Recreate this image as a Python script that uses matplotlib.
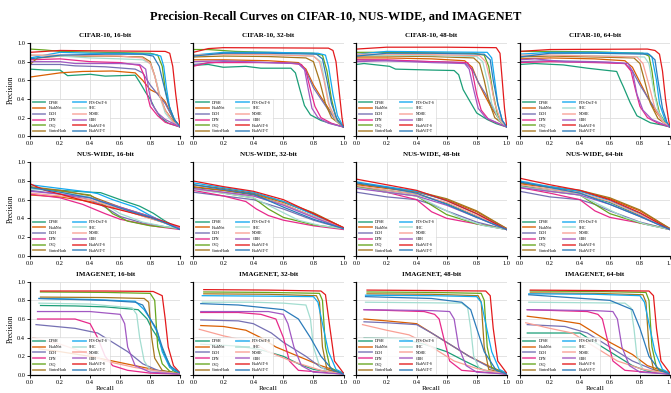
import matplotlib.pyplot as plt

plt.rcParams['font.family'] = ['Liberation Serif', 'DejaVu Serif']

methods = ['DPSH', 'HashNet', 'DCH', 'DPN', 'CSQ', 'CenterHash',
           'FTS-DeiT-S', 'SHC', 'NDHE', 'CBH', 'HashViT-S', 'HashViT-T']
colors = ['#1b9e77', '#d95f02', '#7570b3', '#e7298a', '#66a61e', '#a6761d',
          '#12a9f0', '#a3ddd0', '#f9a095', '#a158c2', '#e31a1c', '#2b7bba']
datasets = ['CIFAR-10', 'NUS-WIDE', 'IMAGENET']
bits = [16, 32, 48, 64]

# (recall, precision) points
cifar_16 = {
    'DPSH': [(0, .72), (.1, .71), (.2, .71), (.25, .65), (.4, .665), (.5, .645), (.7, .655), (.73, .58), (.77, .47), (.8, .40), (.83, .30), (.87, .20), (.92, .14), (1, .10)],
    'HashNet': [(0, .635), (.2, .68), (.35, .695), (.55, .70), (.7, .68), (.75, .6), (.8, .5), (.85, .46), (.9, .37), (.95, .2), (1, .1)],
    'DCH': [(0, .77), (.2, .77), (.3, .755), (.5, .745), (.7, .72), (.75, .68), (.8, .55), (.85, .45), (.9, .35), (.95, .2), (1, .1)],
    'DPN': [(0, .82), (.2, .83), (.4, .8), (.6, .79), (.73, .76), (.76, .65), (.78, .45), (.8, .32), (.85, .22), (.9, .15), (1, .1)],
    'CSQ': [(0, .935), (.1, .925), (.2, .91), (.5, .9), (.8, .89), (.85, .87), (.88, .75), (.9, .5), (.93, .3), (.96, .17), (1, .1)],
    'CenterHash': [(0, .77), (.05, .84), (.2, .86), (.5, .86), (.75, .85), (.8, .8), (.83, .65), (.86, .45), (.9, .28), (.95, .17), (1, .1)],
    'FTS-DeiT-S': [(0, .84), (.2, .9), (.4, .89), (.6, .89), (.82, .88), (.87, .86), (.89, .75), (.91, .5), (.93, .3), (.97, .15), (1, .1)],
    'SHC': [(0, .87), (.2, .86), (.4, .84), (.6, .83), (.75, .82), (.8, .78), (.84, .6), (.87, .4), (.9, .25), (.95, .15), (1, .1)],
    'NDHE': [(0, .87), (.2, .87), (.6, .86), (.75, .84), (.8, .78), (.83, .65), (.86, .45), (.9, .28), (.95, .16), (1, .1)],
    'CBH': [(0, .8), (.2, .8), (.3, .78), (.6, .78), (.73, .77), (.77, .72), (.79, .5), (.81, .35), (.85, .25), (.9, .18), (1, .1)],
    'HashViT-S': [(0, .90), (.2, .92), (.5, .915), (.9, .91), (.93, .89), (.95, .75), (.97, .45), (.99, .2), (1, .1)],
    'HashViT-T': [(0, .83), (.2, .87), (.5, .88), (.75, .88), (.82, .86), (.86, .75), (.89, .55), (.92, .35), (.96, .18), (1, .1)],
}

cifar_32 = {
    'DPSH': [(0, .76), (.1, .77), (.2, .74), (.35, .75), (.45, .73), (.65, .73), (.68, .68), (.71, .5), (.74, .33), (.78, .23), (.85, .17), (.93, .13), (1, .1)],
    'HashNet': [(0, .82), (.2, .82), (.5, .81), (.7, .79), (.75, .72), (.8, .55), (.85, .42), (.9, .3), (.95, .18), (1, .1)],
    'DCH': [(0, .77), (.2, .8), (.5, .79), (.7, .78), (.75, .7), (.8, .52), (.85, .4), (.9, .28), (.95, .17), (1, .1)],
    'DPN': [(0, .75), (.1, .79), (.3, .79), (.6, .79), (.72, .77), (.75, .7), (.78, .5), (.81, .32), (.85, .2), (.92, .14), (1, .1)],
    'CSQ': [(0, .93), (.1, .93), (.28, .91), (.5, .9), (.8, .89), (.86, .87), (.89, .7), (.92, .4), (.95, .2), (1, .1)],
    'CenterHash': [(0, .85), (.2, .86), (.5, .855), (.75, .84), (.8, .8), (.84, .6), (.88, .35), (.92, .2), (1, .1)],
    'FTS-DeiT-S': [(0, .87), (.2, .9), (.5, .9), (.83, .89), (.88, .87), (.9, .75), (.93, .45), (.96, .22), (1, .1)],
    'SHC': [(0, .87), (.2, .88), (.5, .875), (.8, .86), (.85, .8), (.88, .55), (.91, .3), (.95, .17), (1, .1)],
    'NDHE': [(0, .87), (.2, .88), (.5, .875), (.8, .86), (.84, .8), (.87, .6), (.9, .35), (.95, .18), (1, .1)],
    'CBH': [(0, .8), (.2, .81), (.5, .79), (.7, .78), (.74, .72), (.76, .55), (.79, .3), (.83, .2), (.9, .14), (1, .1)],
    'HashViT-S': [(0, .9), (.1, .94), (.2, .95), (.9, .945), (.93, .92), (.95, .8), (.97, .5), (.99, .2), (1, .1)],
    'HashViT-T': [(0, .86), (.2, .89), (.5, .89), (.82, .88), (.86, .83), (.89, .6), (.92, .35), (.96, .17), (1, .1)],
}

cifar_48 = {
    'DPSH': [(0, .77), (.05, .78), (.22, .75), (.26, .72), (.5, .71), (.65, .705), (.68, .66), (.71, .5), (.76, .36), (.8, .25), (.87, .18), (.93, .135), (1, .1)],
    'HashNet': [(0, .84), (.2, .84), (.5, .83), (.72, .81), (.77, .74), (.81, .58), (.85, .45), (.9, .3), (.95, .18), (1, .1)],
    'DCH': [(0, .82), (.2, .81), (.5, .8), (.72, .79), (.77, .72), (.81, .58), (.86, .45), (.91, .3), (.95, .18), (1, .1)],
    'DPN': [(0, .82), (.2, .82), (.5, .8), (.74, .79), (.77, .7), (.8, .45), (.83, .28), (.88, .18), (1, .1)],
    'CSQ': [(0, .9), (.2, .9), (.5, .895), (.78, .89), (.85, .87), (.88, .75), (.91, .45), (.94, .22), (1, .1)],
    'CenterHash': [(0, .86), (.2, .86), (.5, .855), (.78, .84), (.82, .78), (.85, .6), (.88, .38), (.92, .2), (1, .1)],
    'FTS-DeiT-S': [(0, .88), (.2, .91), (.5, .905), (.87, .9), (.9, .84), (.92, .6), (.94, .35), (.97, .17), (1, .1)],
    'SHC': [(0, .87), (.2, .87), (.5, .865), (.8, .855), (.84, .8), (.87, .6), (.9, .35), (.95, .17), (1, .1)],
    'NDHE': [(0, .88), (.2, .88), (.5, .875), (.82, .865), (.86, .8), (.89, .6), (.92, .35), (.96, .17), (1, .1)],
    'CBH': [(0, .8), (.2, .81), (.5, .79), (.72, .78), (.75, .72), (.78, .5), (.81, .3), (.86, .2), (1, .1)],
    'HashViT-S': [(0, .935), (.2, .955), (.6, .955), (.93, .95), (.955, .89), (.97, .6), (.985, .3), (1, .1)],
    'HashViT-T': [(0, .86), (.2, .89), (.5, .89), (.85, .88), (.89, .82), (.91, .6), (.94, .35), (.97, .17), (1, .1)],
}

cifar_64 = {
    'DPSH': [(0, .77), (.1, .78), (.29, .765), (.45, .73), (.56, .71), (.645, .695), (.67, .6), (.69, .53), (.735, .36), (.78, .22), (.87, .145), (.95, .12), (1, .1)],
    'HashNet': [(0, .83), (.2, .84), (.5, .83), (.7, .81), (.75, .74), (.8, .58), (.85, .42), (.9, .28), (.95, .17), (1, .1)],
    'DCH': [(0, .8), (.2, .81), (.5, .8), (.7, .78), (.75, .7), (.8, .55), (.85, .42), (.9, .3), (.95, .18), (1, .1)],
    'DPN': [(0, .79), (.2, .8), (.5, .79), (.7, .78), (.74, .7), (.77, .5), (.8, .32), (.85, .2), (.92, .14), (1, .1)],
    'CSQ': [(0, .91), (.2, .91), (.5, .905), (.82, .89), (.86, .86), (.88, .7), (.9, .45), (.93, .25), (.97, .14), (1, .1)],
    'CenterHash': [(0, .85), (.2, .86), (.5, .85), (.76, .84), (.8, .78), (.83, .6), (.87, .35), (.92, .19), (1, .1)],
    'FTS-DeiT-S': [(0, .88), (.2, .9), (.5, .9), (.85, .89), (.88, .85), (.91, .6), (.93, .35), (.97, .16), (1, .1)],
    'SHC': [(0, .87), (.2, .87), (.5, .865), (.83, .85), (.86, .78), (.89, .5), (.92, .28), (.96, .15), (1, .1)],
    'NDHE': [(0, .87), (.2, .87), (.5, .86), (.78, .85), (.82, .78), (.86, .55), (.9, .3), (.95, .16), (1, .1)],
    'CBH': [(0, .82), (.1, .83), (.3, .8), (.6, .795), (.72, .78), (.75, .7), (.78, .45), (.82, .28), (.88, .18), (1, .1)],
    'HashViT-S': [(0, .91), (.2, .93), (.85, .935), (.9, .92), (.93, .88), (.95, .7), (.97, .4), (.99, .18), (1, .1)],
    'HashViT-T': [(0, .85), (.2, .89), (.5, .89), (.86, .88), (.9, .82), (.92, .6), (.95, .3), (.98, .15), (1, .1)],
}

nus_16 = {
    'DPSH': [(0, .72), (.2, .7), (.4, .68), (.47, .675), (.6, .6), (.73, .53), (.82, .455), (.89, .38), (1, .28)],
    'HashNet': [(0, .65), (.2, .63), (.4, .58), (.6, .5), (.8, .4), (.9, .35), (1, .3)],
    'DCH': [(0, .7), (.2, .66), (.4, .6), (.5, .52), (.6, .42), (.75, .35), (.9, .31), (1, .29)],
    'DPN': [(0, .66), (.2, .62), (.35, .55), (.5, .45), (.6, .39), (.75, .34), (.85, .31), (1, .28)],
    'CSQ': [(0, .73), (.2, .69), (.4, .65), (.45, .6), (.55, .45), (.65, .37), (.8, .32), (1, .29)],
    'CenterHash': [(0, .74), (.2, .7), (.4, .64), (.6, .52), (.8, .42), (.9, .36), (1, .29)],
    'FTS-DeiT-S': [(0, .76), (.2, .72), (.4, .68), (.45, .665), (.55, .6), (.7, .52), (.8, .43), (.9, .35), (1, .28)],
    'SHC': [(0, .72), (.2, .68), (.4, .63), (.5, .55), (.6, .45), (.75, .36), (.9, .31), (1, .29)],
    'NDHE': [(0, .67), (.2, .64), (.4, .6), (.6, .5), (.8, .4), (.9, .35), (1, .3)],
    'CBH': [(0, .69), (.2, .66), (.4, .62), (.6, .52), (.8, .42), (.9, .36), (1, .29)],
    'HashViT-S': [(0, .77), (.1, .7), (.2, .66), (.4, .57), (.6, .49), (.8, .41), (.9, .36), (1, .31)],
    'HashViT-T': [(0, .73), (.2, .68), (.4, .62), (.6, .51), (.8, .41), (.9, .35), (1, .28)],
}

nus_32 = {
    'DPSH': [(0, .73), (.2, .7), (.4, .65), (.6, .55), (.8, .42), (1, .29)],
    'HashNet': [(0, .74), (.2, .7), (.4, .66), (.6, .57), (.8, .45), (1, .3)],
    'DCH': [(0, .68), (.2, .64), (.4, .6), (.6, .5), (.8, .38), (1, .29)],
    'DPN': [(0, .7), (.2, .64), (.35, .58), (.42, .5), (.5, .43), (.6, .38), (.8, .32), (1, .28)],
    'CSQ': [(0, .72), (.2, .67), (.4, .62), (.5, .5), (.6, .41), (.8, .33), (1, .29)],
    'CenterHash': [(0, .76), (.2, .72), (.4, .67), (.6, .58), (.8, .46), (1, .3)],
    'FTS-DeiT-S': [(0, .78), (.2, .73), (.4, .68), (.6, .58), (.8, .44), (1, .29)],
    'SHC': [(0, .71), (.2, .67), (.4, .62), (.55, .5), (.7, .38), (.85, .32), (1, .29)],
    'NDHE': [(0, .72), (.2, .68), (.4, .64), (.6, .55), (.8, .42), (1, .3)],
    'CBH': [(0, .72), (.2, .68), (.4, .64), (.6, .54), (.8, .41), (1, .29)],
    'HashViT-S': [(0, .8), (.2, .74), (.4, .69), (.6, .6), (.8, .45), (1, .3)],
    'HashViT-T': [(0, .76), (.2, .71), (.4, .66), (.6, .52), (.8, .39), (1, .29)],
}

nus_48 = {
    'DPSH': [(0, .74), (.2, .7), (.4, .66), (.6, .56), (.8, .42), (1, .28)],
    'HashNet': [(0, .76), (.2, .72), (.4, .68), (.6, .6), (.8, .47), (1, .29)],
    'DCH': [(0, .68), (.2, .63), (.4, .6), (.5, .55), (.6, .48), (.8, .36), (1, .28)],
    'DPN': [(0, .74), (.2, .68), (.4, .6), (.5, .47), (.6, .4), (.8, .34), (1, .28)],
    'CSQ': [(0, .74), (.2, .68), (.4, .64), (.5, .54), (.6, .44), (.8, .34), (1, .28)],
    'CenterHash': [(0, .77), (.2, .73), (.4, .69), (.6, .61), (.8, .48), (1, .29)],
    'FTS-DeiT-S': [(0, .79), (.2, .74), (.4, .69), (.6, .59), (.8, .45), (1, .28)],
    'SHC': [(0, .73), (.2, .68), (.4, .64), (.55, .52), (.7, .4), (.85, .32), (1, .28)],
    'NDHE': [(0, .75), (.2, .7), (.4, .66), (.6, .57), (.8, .43), (1, .28)],
    'CBH': [(0, .72), (.2, .68), (.4, .64), (.6, .54), (.8, .41), (1, .28)],
    'HashViT-S': [(0, .82), (.2, .76), (.4, .7), (.6, .59), (.8, .45), (1, .28)],
    'HashViT-T': [(0, .78), (.2, .73), (.4, .67), (.6, .55), (.8, .41), (1, .28)],
}

nus_64 = {
    'DPSH': [(0, .75), (.2, .71), (.4, .67), (.6, .57), (.8, .43), (1, .28)],
    'HashNet': [(0, .77), (.2, .73), (.4, .69), (.6, .61), (.8, .48), (1, .29)],
    'DCH': [(0, .69), (.2, .63), (.4, .6), (.5, .55), (.6, .48), (.8, .36), (1, .28)],
    'DPN': [(0, .73), (.2, .67), (.4, .6), (.5, .48), (.6, .41), (.8, .35), (1, .28)],
    'CSQ': [(0, .74), (.2, .69), (.4, .65), (.5, .55), (.6, .45), (.8, .35), (1, .28)],
    'CenterHash': [(0, .78), (.2, .74), (.4, .7), (.6, .62), (.8, .49), (1, .29)],
    'FTS-DeiT-S': [(0, .8), (.2, .74), (.4, .69), (.6, .59), (.8, .45), (1, .28)],
    'SHC': [(0, .74), (.2, .69), (.4, .65), (.55, .53), (.7, .41), (.85, .33), (1, .28)],
    'NDHE': [(0, .76), (.2, .71), (.4, .67), (.6, .58), (.8, .44), (1, .28)],
    'CBH': [(0, .73), (.2, .69), (.4, .65), (.6, .55), (.8, .42), (1, .28)],
    'HashViT-S': [(0, .83), (.2, .76), (.4, .7), (.6, .6), (.8, .46), (1, .28)],
    'HashViT-T': [(0, .79), (.2, .73), (.4, .67), (.6, .55), (.8, .42), (1, .28)],
}

imagenet_16 = {
    'DPSH': [(.07, .745), (.3, .74), (.5, .73), (.72, .7), (.78, .6), (.81, .5), (.85, .4), (.9, .2), (.95, .05), (1, .01)],
    'HashNet': [(.06, .28), (.2, .25), (.4, .2), (.55, .15), (.7, .1), (.85, .05), (1, .01)],
    'DCH': [(.04, .54), (.3, .5), (.45, .45), (.55, .35), (.65, .25), (.75, .12), (.85, .05), (1, .01)],
    'DPN': [(.05, .6), (.3, .6), (.4, .55), (.45, .4), (.5, .2), (.55, .1), (.65, .05), (.8, .02), (1, .01)],
    'CSQ': [(.07, .89), (.5, .885), (.8, .875), (.83, .8), (.85, .3), (.88, .12), (.93, .04), (1, .01)],
    'CenterHash': [(.07, .835), (.5, .83), (.76, .82), (.79, .78), (.81, .4), (.83, .18), (.88, .05), (1, .01)],
    'FTS-DeiT-S': [(.06, .82), (.4, .81), (.7, .79), (.76, .7), (.8, .6), (.85, .45), (.88, .25), (.93, .08), (1, .02)],
    'SHC': [(.06, .77), (.4, .76), (.68, .72), (.71, .65), (.73, .4), (.76, .15), (.8, .05), (1, .01)],
    'NDHE': [(.02, .4), (.2, .33), (.35, .25), (.5, .15), (.7, .08), (.9, .03), (1, .01)],
    'CBH': [(.05, .68), (.4, .68), (.6, .65), (.63, .55), (.65, .3), (.7, .1), (.8, .03), (1, .01)],
    'HashViT-S': [(.07, .9), (.5, .9), (.82, .895), (.88, .85), (.9, .6), (.92, .3), (.955, .1), (1, .02)],
    'HashViT-T': [(.06, .82), (.5, .8), (.7, .78), (.75, .75), (.8, .6), (.84, .5), (.88, .3), (.93, .1), (1, .02)],
}

imagenet_32 = {
    'DPSH': [(.05, .33), (.3, .31), (.45, .27), (.6, .2), (.7, .12), (.8, .06), (1, .01)],
    'HashNet': [(.05, .53), (.2, .52), (.35, .48), (.45, .4), (.55, .3), (.7, .2), (.85, .1), (1, .02)],
    'DCH': [(.05, .59), (.3, .58), (.4, .55), (.52, .45), (.6, .35), (.75, .2), (.85, .08), (1, .01)],
    'DPN': [(.05, .67), (.3, .67), (.45, .65), (.55, .6), (.6, .4), (.64, .15), (.7, .05), (1, .01)],
    'CSQ': [(.07, .89), (.5, .885), (.84, .875), (.86, .8), (.88, .3), (.91, .08), (1, .01)],
    'CenterHash': [(.07, .87), (.5, .865), (.82, .85), (.84, .78), (.86, .3), (.89, .06), (1, .01)],
    'FTS-DeiT-S': [(.06, .85), (.5, .845), (.8, .84), (.83, .78), (.86, .55), (.9, .25), (.95, .06), (1, .02)],
    'SHC': [(.06, .78), (.4, .78), (.6, .77), (.75, .75), (.78, .6), (.8, .3), (.84, .1), (.9, .03), (1, .01)],
    'NDHE': [(.04, .49), (.2, .42), (.4, .35), (.5, .25), (.65, .15), (.85, .05), (1, .01)],
    'CBH': [(.05, .68), (.5, .68), (.6, .65), (.63, .55), (.67, .3), (.72, .1), (.8, .03), (1, .01)],
    'HashViT-S': [(.07, .915), (.5, .91), (.85, .9), (.88, .86), (.91, .5), (.94, .15), (1, .02)],
    'HashViT-T': [(.05, .765), (.3, .75), (.6, .7), (.7, .6), (.78, .4), (.85, .2), (.93, .05), (1, .01)],
}

imagenet_48 = {
    'DPSH': [(.05, .4), (.3, .39), (.45, .33), (.6, .25), (.72, .15), (.85, .05), (1, .01)],
    'HashNet': [(.05, .6), (.2, .58), (.4, .55), (.5, .45), (.6, .35), (.75, .2), (.9, .08), (1, .02)],
    'DCH': [(.05, .57), (.2, .56), (.4, .54), (.5, .45), (.6, .35), (.75, .2), (.9, .07), (1, .01)],
    'DPN': [(.05, .7), (.45, .68), (.52, .65), (.55, .6), (.58, .4), (.62, .15), (.7, .05), (1, .01)],
    'CSQ': [(.07, .89), (.5, .885), (.83, .875), (.85, .8), (.87, .3), (.9, .08), (1, .01)],
    'CenterHash': [(.07, .87), (.5, .865), (.81, .85), (.83, .78), (.85, .3), (.88, .06), (1, .01)],
    'FTS-DeiT-S': [(.06, .855), (.5, .85), (.8, .84), (.83, .78), (.86, .55), (.9, .25), (.95, .06), (1, .02)],
    'SHC': [(.06, .78), (.4, .775), (.7, .77), (.74, .72), (.76, .5), (.78, .2), (.82, .06), (1, .01)],
    'NDHE': [(.04, .54), (.2, .48), (.35, .43), (.45, .35), (.55, .25), (.65, .15), (.8, .07), (1, .01)],
    'CBH': [(.05, .7), (.5, .69), (.62, .68), (.65, .6), (.68, .3), (.73, .1), (.8, .03), (1, .01)],
    'HashViT-S': [(.07, .91), (.5, .905), (.86, .9), (.89, .85), (.91, .5), (.94, .15), (1, .02)],
    'HashViT-T': [(.06, .84), (.5, .82), (.7, .78), (.76, .7), (.8, .5), (.85, .25), (.93, .05), (1, .01)],
}

imagenet_64 = {
    'DPSH': [(.05, .45), (.4, .45), (.45, .4), (.55, .3), (.65, .2), (.75, .1), (.85, .04), (1, .01)],
    'HashNet': [(.05, .63), (.2, .6), (.4, .55), (.5, .45), (.6, .35), (.75, .22), (.85, .1), (1, .02)],
    'DCH': [(.05, .54), (.3, .52), (.45, .45), (.55, .35), (.65, .25), (.75, .15), (.9, .05), (1, .01)],
    'DPN': [(.05, .7), (.45, .68), (.52, .65), (.55, .6), (.58, .4), (.62, .15), (.7, .05), (1, .01)],
    'CSQ': [(.07, .9), (.5, .895), (.84, .885), (.86, .8), (.88, .3), (.91, .08), (1, .01)],
    'CenterHash': [(.07, .88), (.5, .875), (.82, .86), (.84, .78), (.86, .3), (.89, .06), (1, .01)],
    'FTS-DeiT-S': [(.06, .87), (.5, .865), (.8, .85), (.83, .78), (.86, .55), (.9, .25), (.95, .06), (1, .02)],
    'SHC': [(.06, .78), (.4, .775), (.7, .77), (.74, .72), (.76, .5), (.78, .2), (.82, .06), (1, .01)],
    'NDHE': [(.04, .56), (.2, .5), (.35, .45), (.45, .35), (.55, .25), (.65, .15), (.8, .07), (1, .01)],
    'CBH': [(.05, .7), (.5, .69), (.62, .68), (.65, .6), (.68, .3), (.73, .1), (.8, .03), (1, .01)],
    'HashViT-S': [(.07, .91), (.5, .905), (.86, .9), (.89, .85), (.91, .5), (.94, .15), (1, .02)],
    'HashViT-T': [(.06, .86), (.6, .8), (.75, .7), (.8, .5), (.86, .2), (.93, .05), (1, .01)],
}

panels = [[cifar_16, cifar_32, cifar_48, cifar_64],
          [nus_16, nus_32, nus_48, nus_64],
          [imagenet_16, imagenet_32, imagenet_48, imagenet_64]]

fig, axes = plt.subplots(3, 4, figsize=(6.71, 3.93), dpi=100, sharey=True)
fig.subplots_adjust(left=30/671, right=670/671, top=1-43/393, bottom=1-375/393,
                    wspace=0.0865, hspace=0.279)

for i, ds in enumerate(datasets):
    for j, b in enumerate(bits):
        ax = axes[i, j]
        data = panels[i][j]
        for m, c in zip(methods, colors):
            r = [pt[0] for pt in data[m]]
            p = [pt[1] for pt in data[m]]
            ax.plot(r, p, color=c, lw=0.9, label=m)
        ax.set_xlim(0, 1)
        ax.set_ylim(0, 1.0)
        ax.set_xticks([0, 0.2, 0.4, 0.6, 0.8, 1.0])
        ax.set_yticks([0, 0.2, 0.4, 0.6, 0.8, 1.0])
        ax.grid(True, color='#dedede', lw=0.6)
        ax.set_axisbelow(True)
        ax.spines['top'].set_visible(False)
        ax.spines['right'].set_visible(False)
        ax.spines['left'].set_linewidth(0.9)
        ax.spines['bottom'].set_linewidth(0.9)
        ax.tick_params(labelsize=4.6, length=2, width=0.6, pad=1.5)
        ax.set_title(f'{ds}, {b}-bit', fontsize=5, fontweight='bold', pad=5)
        if j == 0:
            ax.set_ylabel('Precision', fontsize=5.5, labelpad=2)
        if i == 2:
            ax.set_xlabel('Recall', fontsize=5.2, labelpad=1)
        leg = ax.legend(ncol=2, loc='lower left', fontsize=2.8, framealpha=0.85,
                        edgecolor='#cccccc', handlelength=3.2, labelspacing=0.45,
                        columnspacing=1.6, handletextpad=0.9, borderpad=0.5,
                        borderaxespad=0.25)
        leg.get_frame().set_linewidth(0.4)
        for ln in leg.get_lines():
            ln.set_linewidth(1.3)
            ln.set_alpha(0.75)

fig.suptitle('Precision-Recall Curves on CIFAR-10, NUS-WIDE, and IMAGENET',
             fontsize=9, fontweight='bold', y=0.975)

plt.savefig('out.png', dpi=100)
